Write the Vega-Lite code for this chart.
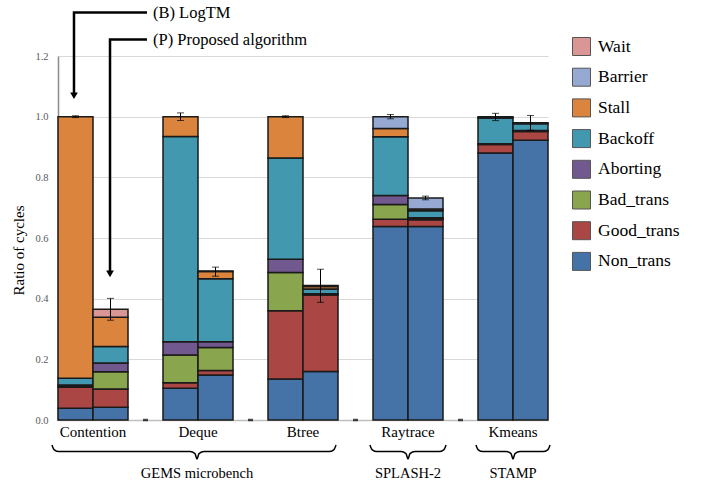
{
  "$schema": "https://vega.github.io/schema/vega-lite/v6.json",
  "width": 490,
  "height": 364,
  "autosize": {"type": "none"},
  "padding": {"left": 58, "top": 56, "right": 154, "bottom": 62},
  "background": "white",
  "config": {
    "view": {"stroke": null},
    "font": "'Liberation Serif', 'Times New Roman', Times, serif",
    "text": {"font": "'Liberation Serif', 'Times New Roman', Times, serif"},
    "axis": {"labelFont": "'Liberation Serif', 'Times New Roman', Times, serif", "titleFont": "'Liberation Serif', 'Times New Roman', Times, serif"},
    "legend": {"labelFont": "'Liberation Serif', 'Times New Roman', Times, serif", "titleFont": "'Liberation Serif', 'Times New Roman', Times, serif"}
  },
  "datasets": {
    "bars": [
      {"slot": "Contention B", "type": "Non_trans", "k": 1, "value": 0.039},
      {"slot": "Contention B", "type": "Good_trans", "k": 2, "value": 0.069},
      {"slot": "Contention B", "type": "Bad_trans", "k": 3, "value": 0.004},
      {"slot": "Contention B", "type": "Aborting", "k": 4, "value": 0.003},
      {"slot": "Contention B", "type": "Backoff", "k": 5, "value": 0.023},
      {"slot": "Contention B", "type": "Stall", "k": 6, "value": 0.862},
      {"slot": "Contention P", "type": "Non_trans", "k": 1, "value": 0.042},
      {"slot": "Contention P", "type": "Good_trans", "k": 2, "value": 0.06},
      {"slot": "Contention P", "type": "Bad_trans", "k": 3, "value": 0.057},
      {"slot": "Contention P", "type": "Aborting", "k": 4, "value": 0.029},
      {"slot": "Contention P", "type": "Backoff", "k": 5, "value": 0.054},
      {"slot": "Contention P", "type": "Stall", "k": 6, "value": 0.097},
      {"slot": "Contention P", "type": "Wait", "k": 8, "value": 0.026},
      {"slot": "Deque B", "type": "Non_trans", "k": 1, "value": 0.1045},
      {"slot": "Deque B", "type": "Good_trans", "k": 2, "value": 0.0185},
      {"slot": "Deque B", "type": "Bad_trans", "k": 3, "value": 0.0915},
      {"slot": "Deque B", "type": "Aborting", "k": 4, "value": 0.0435},
      {"slot": "Deque B", "type": "Backoff", "k": 5, "value": 0.677},
      {"slot": "Deque B", "type": "Stall", "k": 6, "value": 0.065},
      {"slot": "Deque P", "type": "Non_trans", "k": 1, "value": 0.1485},
      {"slot": "Deque P", "type": "Good_trans", "k": 2, "value": 0.0145},
      {"slot": "Deque P", "type": "Bad_trans", "k": 3, "value": 0.0757},
      {"slot": "Deque P", "type": "Aborting", "k": 4, "value": 0.0193},
      {"slot": "Deque P", "type": "Backoff", "k": 5, "value": 0.208},
      {"slot": "Deque P", "type": "Stall", "k": 6, "value": 0.0235},
      {"slot": "Deque P", "type": "Barrier", "k": 7, "value": 0.002},
      {"slot": "Btree B", "type": "Non_trans", "k": 1, "value": 0.135},
      {"slot": "Btree B", "type": "Good_trans", "k": 2, "value": 0.225},
      {"slot": "Btree B", "type": "Bad_trans", "k": 3, "value": 0.126},
      {"slot": "Btree B", "type": "Aborting", "k": 4, "value": 0.044},
      {"slot": "Btree B", "type": "Backoff", "k": 5, "value": 0.3335},
      {"slot": "Btree B", "type": "Stall", "k": 6, "value": 0.1365},
      {"slot": "Btree P", "type": "Non_trans", "k": 1, "value": 0.1595},
      {"slot": "Btree P", "type": "Good_trans", "k": 2, "value": 0.253},
      {"slot": "Btree P", "type": "Bad_trans", "k": 3, "value": 0.002},
      {"slot": "Btree P", "type": "Aborting", "k": 4, "value": 0.002},
      {"slot": "Btree P", "type": "Backoff", "k": 5, "value": 0.015},
      {"slot": "Btree P", "type": "Stall", "k": 6, "value": 0.009},
      {"slot": "Btree P", "type": "Barrier", "k": 7, "value": 0.003},
      {"slot": "Raytrace B", "type": "Non_trans", "k": 1, "value": 0.638},
      {"slot": "Raytrace B", "type": "Good_trans", "k": 2, "value": 0.024},
      {"slot": "Raytrace B", "type": "Bad_trans", "k": 3, "value": 0.0485},
      {"slot": "Raytrace B", "type": "Aborting", "k": 4, "value": 0.0295},
      {"slot": "Raytrace B", "type": "Backoff", "k": 5, "value": 0.194},
      {"slot": "Raytrace B", "type": "Stall", "k": 6, "value": 0.027},
      {"slot": "Raytrace B", "type": "Barrier", "k": 7, "value": 0.039},
      {"slot": "Raytrace P", "type": "Non_trans", "k": 1, "value": 0.638},
      {"slot": "Raytrace P", "type": "Good_trans", "k": 2, "value": 0.022},
      {"slot": "Raytrace P", "type": "Bad_trans", "k": 3, "value": 0.005},
      {"slot": "Raytrace P", "type": "Aborting", "k": 4, "value": 0.002},
      {"slot": "Raytrace P", "type": "Backoff", "k": 5, "value": 0.023},
      {"slot": "Raytrace P", "type": "Stall", "k": 6, "value": 0.006},
      {"slot": "Raytrace P", "type": "Barrier", "k": 7, "value": 0.036},
      {"slot": "Kmeans B", "type": "Non_trans", "k": 1, "value": 0.88},
      {"slot": "Kmeans B", "type": "Good_trans", "k": 2, "value": 0.028},
      {"slot": "Kmeans B", "type": "Bad_trans", "k": 3, "value": 0.003},
      {"slot": "Kmeans B", "type": "Backoff", "k": 5, "value": 0.085},
      {"slot": "Kmeans B", "type": "Stall", "k": 6, "value": 0.004},
      {"slot": "Kmeans P", "type": "Non_trans", "k": 1, "value": 0.922},
      {"slot": "Kmeans P", "type": "Good_trans", "k": 2, "value": 0.0295},
      {"slot": "Kmeans P", "type": "Bad_trans", "k": 3, "value": 0.003},
      {"slot": "Kmeans P", "type": "Backoff", "k": 5, "value": 0.022},
      {"slot": "Kmeans P", "type": "Stall", "k": 6, "value": 0.0035}
    ],
    "err": [
      {"slot": "Contention B", "lo": 0.997, "hi": 1.003},
      {"slot": "Contention P", "lo": 0.329, "hi": 0.401},
      {"slot": "Deque B", "lo": 0.9875, "hi": 1.0125},
      {"slot": "Deque P", "lo": 0.474, "hi": 0.504},
      {"slot": "Btree B", "lo": 0.997, "hi": 1.003},
      {"slot": "Btree P", "lo": 0.388, "hi": 0.497},
      {"slot": "Raytrace B", "lo": 0.993, "hi": 1.007},
      {"slot": "Raytrace P", "lo": 0.726, "hi": 0.738},
      {"slot": "Kmeans B", "lo": 0.987, "hi": 1.011},
      {"slot": "Kmeans P", "lo": 0.955, "hi": 1.004}
    ],
    "gaps": [
      {"slot": "g1", "v": 0},
      {"slot": "g2", "v": 0},
      {"slot": "g3", "v": 0},
      {"slot": "g4", "v": 0}
    ],
    "arrows": [
      {"a": "B", "i": 1, "x": 2.543, "y": 1.343},
      {"a": "B", "i": 2, "x": 0.457, "y": 1.343},
      {"a": "B", "i": 3, "x": 0.457, "y": 1.072},
      {"a": "P", "i": 1, "x": 2.543, "y": 1.254},
      {"a": "P", "i": 2, "x": 1.486, "y": 1.254},
      {"a": "P", "i": 3, "x": 1.486, "y": 0.485}
    ],
    "heads": [
      {"a": "B", "x": 0.457, "y": 1.069},
      {"a": "P", "x": 1.486, "y": 0.482}
    ],
    "braces": [
      {"g": "GEMS", "i": 1, "x": -0.1714, "y": -0.0825},
      {"g": "GEMS", "i": 2, "x": -0.1143, "y": -0.0974},
      {"g": "GEMS", "i": 3, "x": 0.0286, "y": -0.104},
      {"g": "GEMS", "i": 4, "x": 3.77, "y": -0.104},
      {"g": "GEMS", "i": 5, "x": 3.913, "y": -0.1106},
      {"g": "GEMS", "i": 6, "x": 3.971, "y": -0.1287},
      {"g": "GEMS", "i": 7, "x": 4.029, "y": -0.1106},
      {"g": "GEMS", "i": 8, "x": 4.171, "y": -0.104},
      {"g": "GEMS", "i": 9, "x": 7.7429, "y": -0.104},
      {"g": "GEMS", "i": 10, "x": 7.8857, "y": -0.0974},
      {"g": "GEMS", "i": 11, "x": 7.9429, "y": -0.0825},
      {"g": "SPLASH", "i": 1, "x": 8.9143, "y": -0.0825},
      {"g": "SPLASH", "i": 2, "x": 8.9714, "y": -0.0974},
      {"g": "SPLASH", "i": 3, "x": 9.1143, "y": -0.104},
      {"g": "SPLASH", "i": 4, "x": 9.8, "y": -0.104},
      {"g": "SPLASH", "i": 5, "x": 9.9429, "y": -0.1106},
      {"g": "SPLASH", "i": 6, "x": 10.0, "y": -0.1287},
      {"g": "SPLASH", "i": 7, "x": 10.0571, "y": -0.1106},
      {"g": "SPLASH", "i": 8, "x": 10.2, "y": -0.104},
      {"g": "SPLASH", "i": 9, "x": 10.8857, "y": -0.104},
      {"g": "SPLASH", "i": 10, "x": 11.0286, "y": -0.0974},
      {"g": "SPLASH", "i": 11, "x": 11.0857, "y": -0.0825},
      {"g": "STAMP", "i": 1, "x": 11.9429, "y": -0.0825},
      {"g": "STAMP", "i": 2, "x": 12.0, "y": -0.0974},
      {"g": "STAMP", "i": 3, "x": 12.1429, "y": -0.104},
      {"g": "STAMP", "i": 4, "x": 12.8, "y": -0.104},
      {"g": "STAMP", "i": 5, "x": 12.9429, "y": -0.1106},
      {"g": "STAMP", "i": 6, "x": 13.0, "y": -0.1287},
      {"g": "STAMP", "i": 7, "x": 13.0571, "y": -0.1106},
      {"g": "STAMP", "i": 8, "x": 13.2, "y": -0.104},
      {"g": "STAMP", "i": 9, "x": 13.8571, "y": -0.104},
      {"g": "STAMP", "i": 10, "x": 14.0, "y": -0.0974},
      {"g": "STAMP", "i": 11, "x": 14.0571, "y": -0.0825}
    ],
    "groups": [
      {"t": "GEMS microbench", "x": 3.971, "y": -0.178},
      {"t": "SPLASH-2", "x": 10.0, "y": -0.178},
      {"t": "STAMP", "x": 13.0, "y": -0.178}
    ],
    "notes": [
      {"t": "(B) LogTM", "x": 2.714, "y": 1.343},
      {"t": "(P) Proposed algorithm", "x": 2.714, "y": 1.254}
    ]
  },
  "layer": [
    {
      "data": {"name": "bars"},
      "mark": {"type": "bar", "stroke": "#1a1a1a", "strokeWidth": 1.5},
      "encoding": {
        "x": {
          "field": "slot", "type": "nominal",
          "scale": {"domain": ["Contention B", "Contention P", "g1", "Deque B", "Deque P", "g2", "Btree B", "Btree P", "g3", "Raytrace B", "Raytrace P", "g4", "Kmeans B", "Kmeans P"], "paddingInner": 0, "paddingOuter": 0},
          "axis": {"title": null, "ticks": false, "grid": false, "labelAngle": 0, "labelExpr": "indexof(datum.value, ' P') > 0 ? slice(datum.value, 0, -2) : ''", "labelOffset": -17.5, "labelFontSize": 15, "labelColor": "black", "labelPadding": 4, "labelOverlap": false, "labelBound": false, "domainColor": "#bfbfbf", "domainWidth": 1.5}
        },
        "y": {
          "field": "value", "type": "quantitative", "stack": "zero",
          "scale": {"domain": [0, 1.2], "nice": false},
          "axis": {"title": "Ratio of cycles", "values": [0, 0.2, 0.4, 0.6, 0.8, 1.0, 1.2], "format": ".1f", "labelFontSize": 10.5, "labelColor": "#595959", "ticks": false, "labelPadding": 10, "domainColor": "#8c8c8c", "domainWidth": 1.5, "grid": true, "gridColor": "#d9d9d9", "gridWidth": 1, "titleFontSize": 15, "titleFontWeight": "normal", "titleColor": "black", "titleX": -40, "titleY": 194, "titleAlign": "center", "titleBaseline": "middle"}
        },
        "color": {
          "field": "type", "type": "nominal",
          "scale": {"domain": ["Wait", "Barrier", "Stall", "Backoff", "Aborting", "Bad_trans", "Good_trans", "Non_trans"], "range": ["#D99694", "#95A9D2", "#DB843D", "#4198AF", "#71588F", "#89A54E", "#AA4643", "#4572A7"]},
          "legend": {"title": null, "orient": "none", "legendX": 514, "legendY": -19, "padding": 0, "symbolType": "square", "symbolSize": 324, "symbolStrokeColor": "#555555", "symbolStrokeWidth": 1, "labelFontSize": 17.5, "labelOffset": 7, "labelColor": "black", "rowPadding": 7.7}
        },
        "order": {"field": "k", "type": "quantitative"}
      }
    },
    {
      "data": {"name": "gaps"},
      "mark": {"type": "tick", "orient": "horizontal", "size": 5, "thickness": 2.5, "color": "black"},
      "encoding": {
        "x": {"field": "slot", "type": "nominal", "scale": {"domain": ["Contention B", "Contention P", "g1", "Deque B", "Deque P", "g2", "Btree B", "Btree P", "g3", "Raytrace B", "Raytrace P", "g4", "Kmeans B", "Kmeans P"], "paddingInner": 0, "paddingOuter": 0}, "axis": null},
        "y": {"field": "v", "type": "quantitative", "scale": {"domain": [0, 1.2], "nice": false}, "axis": null}
      }
    },
    {
      "data": {"name": "err"},
      "mark": {"type": "rule", "color": "black", "strokeWidth": 1},
      "encoding": {
        "x": {"field": "slot", "type": "nominal", "scale": {"domain": ["Contention B", "Contention P", "g1", "Deque B", "Deque P", "g2", "Btree B", "Btree P", "g3", "Raytrace B", "Raytrace P", "g4", "Kmeans B", "Kmeans P"], "paddingInner": 0, "paddingOuter": 0}, "axis": null},
        "y": {"field": "lo", "type": "quantitative", "scale": {"domain": [0, 1.2], "nice": false}, "axis": null},
        "y2": {"field": "hi"}
      }
    },
    {
      "data": {"name": "err"},
      "mark": {"type": "tick", "orient": "horizontal", "size": 7, "thickness": 1, "color": "black"},
      "encoding": {
        "x": {"field": "slot", "type": "nominal", "scale": {"domain": ["Contention B", "Contention P", "g1", "Deque B", "Deque P", "g2", "Btree B", "Btree P", "g3", "Raytrace B", "Raytrace P", "g4", "Kmeans B", "Kmeans P"], "paddingInner": 0, "paddingOuter": 0}, "axis": null},
        "y": {"field": "lo", "type": "quantitative", "scale": {"domain": [0, 1.2], "nice": false}, "axis": null}
      }
    },
    {
      "data": {"name": "err"},
      "mark": {"type": "tick", "orient": "horizontal", "size": 7, "thickness": 1, "color": "black"},
      "encoding": {
        "x": {"field": "slot", "type": "nominal", "scale": {"domain": ["Contention B", "Contention P", "g1", "Deque B", "Deque P", "g2", "Btree B", "Btree P", "g3", "Raytrace B", "Raytrace P", "g4", "Kmeans B", "Kmeans P"], "paddingInner": 0, "paddingOuter": 0}, "axis": null},
        "y": {"field": "hi", "type": "quantitative", "scale": {"domain": [0, 1.2], "nice": false}, "axis": null}
      }
    },
    {
      "data": {"name": "arrows"},
      "mark": {"type": "line", "color": "black", "strokeWidth": 2.5, "strokeJoin": "miter", "strokeCap": "butt"},
      "encoding": {
        "x": {"field": "x", "type": "quantitative", "scale": {"domain": [0, 14], "nice": false, "zero": false}, "axis": null},
        "y": {"field": "y", "type": "quantitative", "scale": {"domain": [0, 1.2], "nice": false, "zero": false}, "axis": null},
        "detail": {"field": "a"},
        "order": {"field": "i", "type": "quantitative"}
      }
    },
    {
      "data": {"name": "heads"},
      "mark": {"type": "point", "shape": "triangle-down", "filled": true, "size": 60, "color": "black", "opacity": 1},
      "encoding": {
        "x": {"field": "x", "type": "quantitative", "scale": {"domain": [0, 14], "nice": false, "zero": false}, "axis": null},
        "y": {"field": "y", "type": "quantitative", "scale": {"domain": [0, 1.2], "nice": false, "zero": false}, "axis": null}
      }
    },
    {
      "data": {"name": "braces"},
      "mark": {"type": "line", "color": "black", "strokeWidth": 1.5, "interpolate": "monotone"},
      "encoding": {
        "x": {"field": "x", "type": "quantitative", "scale": {"domain": [0, 14], "nice": false, "zero": false}, "axis": null},
        "y": {"field": "y", "type": "quantitative", "scale": {"domain": [0, 1.2], "nice": false, "zero": false}, "axis": null},
        "detail": {"field": "g"},
        "order": {"field": "i", "type": "quantitative"}
      }
    },
    {
      "data": {"name": "groups"},
      "mark": {"type": "text", "fontSize": 14.5, "color": "black", "align": "center", "baseline": "middle"},
      "encoding": {
        "x": {"field": "x", "type": "quantitative", "scale": {"domain": [0, 14], "nice": false, "zero": false}, "axis": null},
        "y": {"field": "y", "type": "quantitative", "scale": {"domain": [0, 1.2], "nice": false, "zero": false}, "axis": null},
        "text": {"field": "t"}
      }
    },
    {
      "data": {"name": "notes"},
      "mark": {"type": "text", "fontSize": 16.5, "color": "black", "align": "left", "baseline": "middle"},
      "encoding": {
        "x": {"field": "x", "type": "quantitative", "scale": {"domain": [0, 14], "nice": false, "zero": false}, "axis": null},
        "y": {"field": "y", "type": "quantitative", "scale": {"domain": [0, 1.2], "nice": false, "zero": false}, "axis": null},
        "text": {"field": "t"}
      }
    }
  ],
  "resolve": {"scale": {"x": "independent", "y": "independent"}, "axis": {"x": "independent", "y": "independent"}}
}
